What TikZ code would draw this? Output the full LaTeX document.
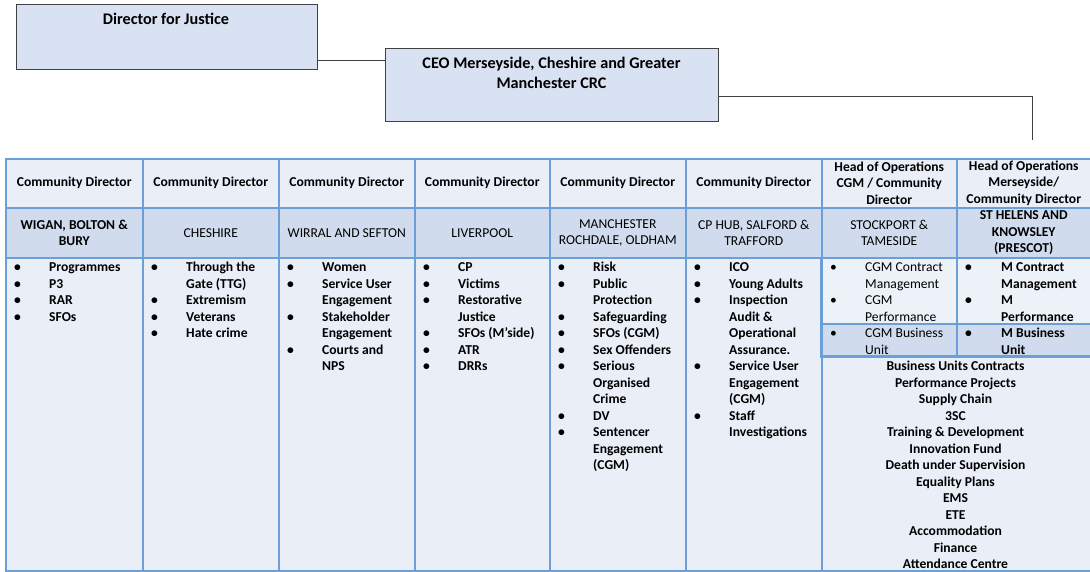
\documentclass[tikz,border=0pt]{standalone}
\usepackage{fontspec}
\setmainfont{Carlito}
\definecolor{topfill}{HTML}{D9E2F3}
\definecolor{hdrfill}{HTML}{E9EEF7}
\definecolor{regfill}{HTML}{D0DCEE}
\definecolor{bodyfill}{HTML}{E9EEF7}
\definecolor{subfill}{HTML}{EDF1F8}
\definecolor{tblue}{HTML}{6A9FD8}
\newcommand{\bl}{\textbullet}
\begin{document}
\begin{tikzpicture}[x=1pt,y=-1pt,
 topbox/.style={draw=black!75, fill=topfill, line width=0.8pt, anchor=north west, inner sep=0pt},
 toptext/.style={align=center, inner sep=0pt, font=\fontsize{16.2}{19.8}\selectfont\bfseries},
 cellbox/.style={draw=tblue, line width=1.5pt, inner sep=0pt, anchor=north west},
 hdr/.style={cellbox, fill=hdrfill, align=center, minimum height=49pt, font=\fontsize{13.6}{16.5}\selectfont\bfseries},
 reg/.style={cellbox, fill=regfill, align=center, minimum height=50pt, font=\fontsize{13.6}{16.5}\selectfont},
 body/.style={cellbox, fill=bodyfill},
 lst/.style={anchor=north west, inner sep=0pt, font=\fontsize{13.6}{16.5}\selectfont\bfseries},
 lstreg/.style={anchor=north west, inner sep=0pt, font=\fontsize{13.6}{16.5}\selectfont},
 conn/.style={draw=black!75, line width=0.8pt}]
\useasboundingbox (0,0) rectangle (1090,571);

% top boxes
\node[topbox, minimum width=301pt, minimum height=65pt] (dir) at (16,4) {};
\node[toptext] (dirt) at (166,19) {Director for Justice};
\node[topbox, minimum width=333pt, minimum height=73pt] (ceo) at (385,48) {};
\node[toptext] (ceot) at (551.5,73) {CEO Merseyside, Cheshire and Greater\\Manchester CRC};

% connectors
\coordinate (j1) at (350,60);
\draw[conn] (dir.east |- j1) -- (ceo.west |- j1);
\coordinate (k) at (1032,96);
\coordinate (drop) at (1032,140);
\draw[conn] (ceo.east |- k) -- (k) -- (drop);

% body cells
\node[body, minimum width=137pt, minimum height=313pt] (b1) at (5,257) {};
\node[body, minimum width=136pt, minimum height=313pt] (b2) at (142,257) {};
\node[body, minimum width=136pt, minimum height=313pt] (b3) at (278,257) {};
\node[body, minimum width=135pt, minimum height=313pt] (b4) at (414,257) {};
\node[body, minimum width=136pt, minimum height=313pt] (b5) at (549,257) {};
\node[body, minimum width=136pt, minimum height=313pt] (b6) at (685,257) {};
\node[body, minimum width=269pt, minimum height=215pt] (b9) at (821,355) {};
\node[cellbox, fill=subfill, minimum width=135pt, minimum height=66pt] (b7a) at (821,257) {};
\node[cellbox, fill=subfill, minimum width=134pt, minimum height=66pt] (b8a) at (956,257) {};
\node[cellbox, fill=regfill, minimum width=135pt, minimum height=32pt] (b7b) at (821,323) {};
\node[cellbox, fill=regfill, minimum width=134pt, minimum height=32pt] (b8b) at (956,323) {};
\draw[draw=tblue, line width=2.6pt] (b7a.north west) rectangle (b8b.south east);

% header row 1
\node[hdr, minimum width=137pt] (h1) at (5,158) {Community Director};
\node[hdr, minimum width=136pt] (h2) at (142,158) {Community Director};
\node[hdr, minimum width=136pt] (h3) at (278,158) {Community Director};
\node[hdr, minimum width=135pt] (h4) at (414,158) {Community Director};
\node[hdr, minimum width=136pt] (h5) at (549,158) {Community Director};
\node[hdr, minimum width=136pt] (h6) at (685,158) {Community Director};
\node[hdr, minimum width=135pt] (h7) at (821,158) {Head of Operations\\CGM / Community\\Director};
\node[hdr, minimum width=134pt] (h8) at (956,158) {Head of Operations\\Merseyside/\\Community Director};

% header row 2
\node[reg, minimum width=137pt, font=\fontsize{13.6}{16.5}\selectfont\bfseries] (r1) at (5,207) {WIGAN, BOLTON \&\\BURY};
\node[reg, minimum width=136pt] (r2) at (142,207) {CHESHIRE};
\node[reg, minimum width=136pt] (r3) at (278,207) {WIRRAL AND SEFTON};
\node[reg, minimum width=135pt] (r4) at (414,207) {LIVERPOOL};
\node[reg, minimum width=136pt] (r5) at (549,207) {MANCHESTER\\ROCHDALE, OLDHAM};
\node[reg, minimum width=136pt] (r6) at (685,207) {CP HUB, SALFORD \&\\TRAFFORD};
\node[reg, minimum width=135pt] (r7) at (821,207) {STOCKPORT \&\\TAMESIDE};
\node[reg, minimum width=134pt, font=\fontsize{13.6}{16.5}\selectfont\bfseries] (r8) at (956,207) {ST HELENS AND\\KNOWSLEY\\(PRESCOT)};

% lists
\node[lst] (l1) at (14,260) {\begin{tabular}{@{}p{35pt}@{}l@{}}
\bl & Programmes\\ \bl & P3\\ \bl & RAR\\ \bl & SFOs\end{tabular}};
\node[lst] (l2) at (151,260) {\begin{tabular}{@{}p{35pt}@{}l@{}}
\bl & Through the\\ & Gate (TTG)\\ \bl & Extremism\\ \bl & Veterans\\ \bl & Hate crime\end{tabular}};
\node[lst] (l3) at (287,260) {\begin{tabular}{@{}p{35pt}@{}l@{}}
\bl & Women\\ \bl & Service User\\ & Engagement\\ \bl & Stakeholder\\ & Engagement\\ \bl & Courts and\\ & NPS\end{tabular}};
\node[lst] (l4) at (423,260) {\begin{tabular}{@{}p{35pt}@{}l@{}}
\bl & CP\\ \bl & Victims\\ \bl & Restorative\\ & Justice\\ \bl & SFOs (M’side)\\ \bl & ATR\\ \bl & DRRs\end{tabular}};
\node[lst] (l5) at (558,260) {\begin{tabular}{@{}p{35pt}@{}l@{}}
\bl & Risk\\ \bl & Public\\ & Protection\\ \bl & Safeguarding\\ \bl & SFOs (CGM)\\ \bl & Sex Offenders\\ \bl & Serious\\ & Organised\\ & Crime\\ \bl & DV\\ \bl & Sentencer\\ & Engagement\\ & (CGM)\end{tabular}};
\node[lst] (l6) at (694,260) {\begin{tabular}{@{}p{35pt}@{}l@{}}
\bl & ICO\\ \bl & Young Adults\\ \bl & Inspection\\ & Audit \&\\ & Operational\\ & Assurance.\\ \bl & Service User\\ & Engagement\\ & (CGM)\\ \bl & Staff\\ & Investigations\end{tabular}};
\node[lstreg] (l7a) at (830,260) {\begin{tabular}{@{}p{35pt}@{}l@{}}
\bl & CGM Contract\\ & Management\\ \bl & CGM\\ & Performance\end{tabular}};
\node[lst] (l8a) at (965,260) {\begin{tabular}{@{}p{36pt}@{}l@{}}
\bl & M Contract\\ & Management\\ \bl & M\\ & Performance\end{tabular}};
\node[lstreg] (l7b) at (830,326) {\begin{tabular}{@{}p{35pt}@{}l@{}}
\bl & CGM Business\\ & Unit\end{tabular}};
\node[lst] (l8b) at (965,326) {\begin{tabular}{@{}p{36pt}@{}l@{}}
\bl & M Business\\ & Unit\end{tabular}};
\node[lst, anchor=north] (l9) at (955.5,359) {\begin{tabular}{@{}c@{}}
Business Units Contracts\\ Performance Projects\\ Supply Chain\\ 3SC\\ Training \& Development\\ Innovation Fund\\ Death under Supervision\\ Equality Plans\\ EMS\\ ETE\\ Accommodation\\ Finance\\ Attendance Centre\end{tabular}};
\end{tikzpicture}
\end{document}
